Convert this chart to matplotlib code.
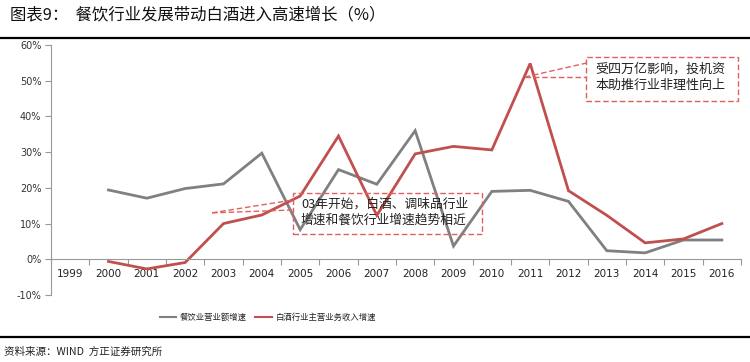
import matplotlib
matplotlib.use("Agg")
import matplotlib.pyplot as plt
from matplotlib.lines import Line2D
from matplotlib.patches import Rectangle

plt.rcParams["font.family"] = ["Noto Sans CJK SC", "DejaVu Sans"]

years = [str(y) for y in range(1999, 2017)]
catering = [None, 19.4, 17.1, 19.8, 21.1, 29.7, 8.3, 25.1, 21.0, 36.0, 3.7,
            19.0, 19.3, 16.2, 2.4, 1.8, 5.4, 5.4]
baijiu = [None, -0.6, -2.7, -0.9, 10.0, 12.4, 17.7, 34.5, 12.3, 29.5, 31.6,
          30.6, 54.8, 19.2, 12.3, 4.6, 5.7, 10.0]
series_names = ["餐饮业营业额增速", "白酒行业主营业务收入增速"]
yticks = [-10, 0, 10, 20, 30, 40, 50, 60]

GRAY = "#808080"
RED = "#C0504D"
DASH = "#E06060"

fig = plt.figure(figsize=(7.5, 3.62), dpi=100)
ax = fig.add_axes([0.068, 0.185, 0.92, 0.691])

x = list(range(len(years)))
def pts(vals):
    xs = [i for i, v in zip(x, vals) if v is not None]
    ys = [v for v in vals if v is not None]
    return xs, ys

ax.plot(*pts(catering), color=GRAY, lw=2.0, solid_joinstyle="miter")
ax.plot(*pts(baijiu), color=RED, lw=2.0, solid_joinstyle="miter")

ax.set_xlim(-0.5, len(years) - 0.5)
ax.set_ylim(-10, 60)
ax.set_yticks(yticks)
ax.set_yticklabels([f"{v}%" for v in yticks], fontsize=7, color="#333333",
                   family="DejaVu Sans")
ax.tick_params(axis="y", length=4, width=0.8, color="#999999", pad=3)

ax.spines["top"].set_visible(False)
ax.spines["right"].set_visible(False)
ax.spines["left"].set_color("#999999")
ax.spines["bottom"].set_color("#999999")
ax.spines["bottom"].set_position(("data", 0))

ax.set_xticks([i - 0.5 for i in range(len(years) + 1)])
ax.set_xticklabels([])
ax.tick_params(axis="x", which="major", direction="out", length=4, width=0.8,
               color="#999999")
ax.set_xticks(x, minor=True)
ax.set_xticklabels(years, minor=True, fontsize=7.5, color="#222222",
                   family="DejaVu Sans")
ax.tick_params(axis="x", which="minor", length=0, pad=7)

# callout 1
ax.add_patch(Rectangle((5.81, 7.0), 4.93, 11.6, fill=False, ec=DASH, lw=1.0,
                       ls=(0, (4, 2)), zorder=3))
ax.plot([3.70, 5.81], [13.0, 16.6], color=DASH, lw=1.0, ls=(0, (4, 2)))
ax.plot([3.70, 5.81], [13.0, 13.8], color=DASH, lw=1.0, ls=(0, (4, 2)))
ax.text(6.02, 15.5, "03年开始，白酒、调味品行业", fontsize=9.2, va="center",
        color="#222222")
ax.text(6.02, 11.0, "增速和餐饮行业增速趋势相近", fontsize=9.2, va="center",
        color="#222222")

# callout 2
ax.add_patch(Rectangle((13.46, 44.2), 3.96, 12.4, fill=False, ec=DASH, lw=1.0,
                       ls=(0, (4, 2)), zorder=3))
ax.plot([11.86, 13.46], [51.0, 54.9], color=DASH, lw=1.0, ls=(0, (4, 2)))
ax.plot([11.86, 13.46], [51.0, 51.0], color=DASH, lw=1.0, ls=(0, (4, 2)))
ax.text(13.70, 53.3, "受四万亿影响，投机资", fontsize=9.4, va="center",
        color="#222222")
ax.text(13.70, 48.6, "本助推行业非理性向上", fontsize=9.4, va="center",
        color="#222222")

# legend
for lx, c, name in [(0.213, GRAY, series_names[0]), (0.340, RED, series_names[1])]:
    fig.add_artist(Line2D([lx, lx + 0.022], [0.124, 0.124], color=c, lw=1.5))
    fig.text(lx + 0.027, 0.124, name, fontsize=6, va="center", color="#222222")

# title and frame lines
fig.text(0.013, 0.958, "图表9：  餐饮行业发展带动白酒进入高速增长（%）",
         fontsize=11.8, va="center", color="#111111")
fig.add_artist(Line2D([0, 1], [0.895, 0.895], color="black", lw=1.6))
fig.add_artist(Line2D([0, 1], [0.068, 0.068], color="black", lw=1.6))
fig.text(0.005, 0.028, "资料来源：WIND  方正证券研究所", fontsize=7.6,
         va="center", style="italic", color="#222222")

fig.savefig("out.png", dpi=100)
